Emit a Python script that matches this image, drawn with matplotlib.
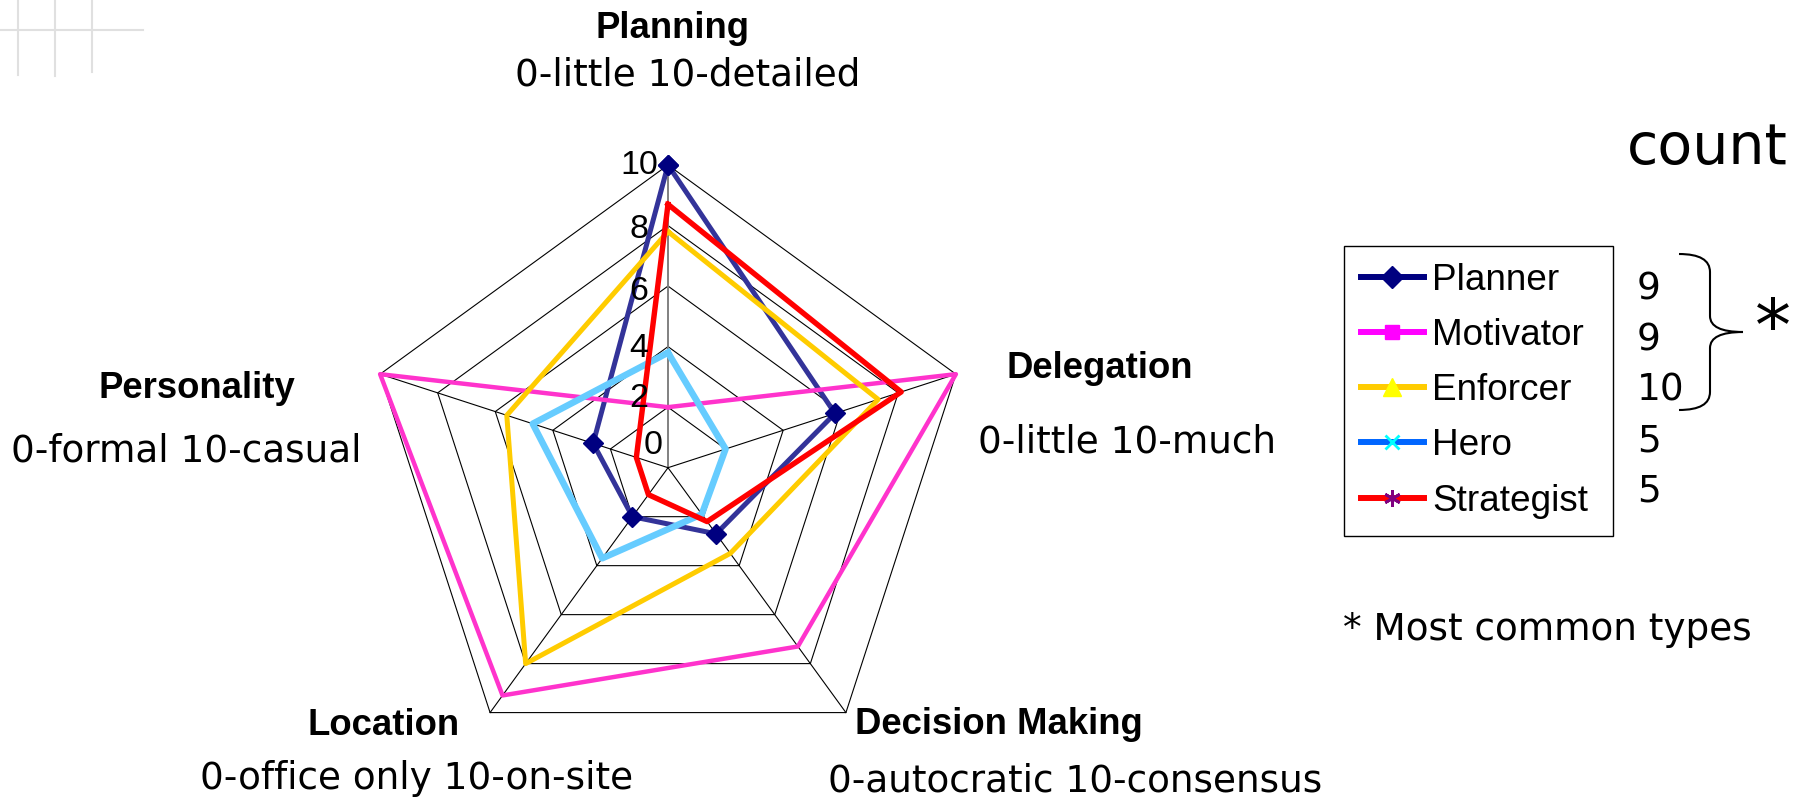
import numpy as np
import matplotlib.pyplot as plt
from matplotlib.lines import Line2D
from matplotlib.path import Path
from matplotlib.patches import PathPatch

W, H = 1803, 802

# data
categories = ['Planning', 'Delegation', 'Decision Making', 'Location', 'Personality']
scales = ['0-little 10-detailed', '0-little 10-much', '0-autocratic 10-consensus',
          '0-office only 10-on-site', '0-formal 10-casual']
series_names = ['Planner', 'Motivator', 'Enforcer', 'Hero', 'Strategist']
planner = [10, 5.8, 2.7, 2.0, 2.6]
motivator = [2.0, 10, 7.3, 9.3, 10]
enforcer = [7.8, 7.3, 3.5, 8.0, 5.6]
hero = [3.8, 2.0, 1.9, 3.7, 4.7]
strategist = [8.7, 8.1, 2.2, 1.1, 1.1]
counts = [9, 9, 10, 5, 5]
ring_values = [0, 2, 4, 6, 8, 10]

line_colors = ['#333399', '#ff33cc', '#ffcc00', '#66ccff', '#ff0000']
line_widths = [3.6, 3.2, 3.6, 4.7, 3.9]

fig = plt.figure(figsize=(W / 100, H / 100), dpi=100)


def fx(x):
    return x / W


def fy(y):
    return 1 - y / H


# radar axes
cx, cy, R = 668, 467.7, 302.7
ax = fig.add_axes([fx(cx - R), fy(cy + R), 2 * R / W, 2 * R / H], projection='polar')
ax.set_theta_offset(np.pi / 2)
ax.set_theta_direction(-1)
ax.set_ylim(0, 10)
ax.set_xticks([])
ax.set_yticks([])
ax.grid(False)
ax.spines['polar'].set_visible(False)
ax.patch.set_visible(False)

angles = np.linspace(0, 2 * np.pi, len(categories), endpoint=False)
closed = np.append(angles, angles[0])

for v in ring_values[1:]:
    ax.plot(closed, [v] * len(closed), color='black', lw=0.8, zorder=1, clip_on=False)
for i, a in enumerate(angles):
    if i == 0:
        ax.plot([a, a], [0, 10], color='#808080', lw=1.4, zorder=1, clip_on=False)
    else:
        ax.plot([a, a], [0, 10], color='black', lw=0.8, zorder=1, clip_on=False)

# value labels sit a little off their rings in the original
label_nudge = [(-10.5, 16), (-21, 6.5), (-21, -1), (-21, -3.6), (-21, -3.2), (-21, 0)]
for v, (dx, dy) in zip(ring_values, label_nudge):
    ax.annotate(str(v), xy=(0, v), xytext=(dx, dy), textcoords='offset points',
                ha='center', va='center', fontsize=24.5, family='Liberation Sans', zorder=5)

all_series = [planner, motivator, enforcer, hero, strategist]
for i, vals in enumerate(all_series):
    if i == 0:
        ax.plot(closed, vals + vals[:1], color=line_colors[i], lw=line_widths[i],
                marker='D', ms=10, mfc='#000080', mec='#000080', zorder=3, clip_on=False)
    else:
        ax.plot(closed, vals + vals[:1], color=line_colors[i], lw=line_widths[i],
                zorder=3, clip_on=False)

# axis titles
bold = {'family': 'Liberation Sans', 'weight': 'bold', 'size': 26.3}
reg = {'family': 'DejaVu Sans', 'size': 26.9}
title_pos = [(672, 37.7), (1100, 378), (999, 734), (384, 735), (197, 398)]
scale_pos = [(688, 85), (1127, 453), (1075, 792), (417, 789), (186, 461)]
for i in range(len(categories)):
    fig.text(fx(title_pos[i][0]), fy(title_pos[i][1]), categories[i], ha='center',
             va='baseline', fontdict=bold)
    fig.text(fx(scale_pos[i][0]), fy(scale_pos[i][1]), scales[i], ha='center',
             va='baseline', fontdict=reg)

# legend
handles = [
    Line2D([], [], color='#000080', lw=4.3, marker='D', ms=11, mfc='#000080', mec='#000080'),
    Line2D([], [], color='#ff00ff', lw=4.3, marker='s', ms=10, mfc='#ff00ff', mec='#ff00ff'),
    Line2D([], [], color='#ffcc00', lw=4.3, marker='^', ms=13, mfc='#ffff00', mec='#ffff00'),
    Line2D([], [], color='#0066ff', lw=4.3, marker='x', ms=10, mec='#00ffff', mew=2),
    Line2D([], [], color='#ff0000', lw=4.3, marker=(6, 2, 0), ms=12, mec='#800080', mew=2),
]
leg = fig.legend(handles, series_names, loc='upper left', mode='expand',
                 bbox_to_anchor=(fx(1344), fy(534), 269 / W, 288 / H),
                 bbox_transform=fig.transFigure,
                 frameon=True, fancybox=False, edgecolor='black', framealpha=1,
                 borderaxespad=0, borderpad=0.46, handlelength=1.7, handletextpad=0.22,
                 labelspacing=0.545, prop={'family': 'Liberation Sans', 'size': 26.6})
leg.get_frame().set_linewidth(1.0)

# counts next to legend
for i, c in enumerate(counts):
    fig.text(fx(1637), fy(299.5 + i * 50.6), str(c), va='baseline', fontdict=reg)

fig.text(fx(1788), fy(164), 'count', ha='right', va='baseline', family='DejaVu Sans', fontsize=41)
fig.text(fx(1773), fy(330), '*', ha='center', va='center', family='DejaVu Sans', fontsize=52)
fig.text(fx(1343), fy(640), '* Most common types', va='baseline', fontdict=reg)

# brace
verts = [(1679, 254), (1710, 254), (1710, 272), (1710, 316), (1710, 332), (1743, 332),
         (1710, 332), (1710, 348), (1710, 392), (1710, 410), (1679, 410)]
codes = [Path.MOVETO, Path.CURVE3, Path.CURVE3, Path.LINETO, Path.CURVE3, Path.CURVE3,
         Path.CURVE3, Path.CURVE3, Path.LINETO, Path.CURVE3, Path.CURVE3]
brace = Path([(fx(x), fy(y)) for x, y in verts], codes)
fig.add_artist(PathPatch(brace, fill=False, lw=1.5, edgecolor='black', transform=fig.transFigure))

# faint slide grid in the corner
fig.add_artist(Line2D([fx(0), fx(143)], [fy(30), fy(30)], color='#e0e0e0', lw=1.5))
for x, y2 in [(18, 75), (55, 76), (92, 72)]:
    fig.add_artist(Line2D([fx(x), fx(x)], [fy(0), fy(y2)], color='#e0e0e0', lw=1.5))

fig.savefig('out.png', dpi=100)
